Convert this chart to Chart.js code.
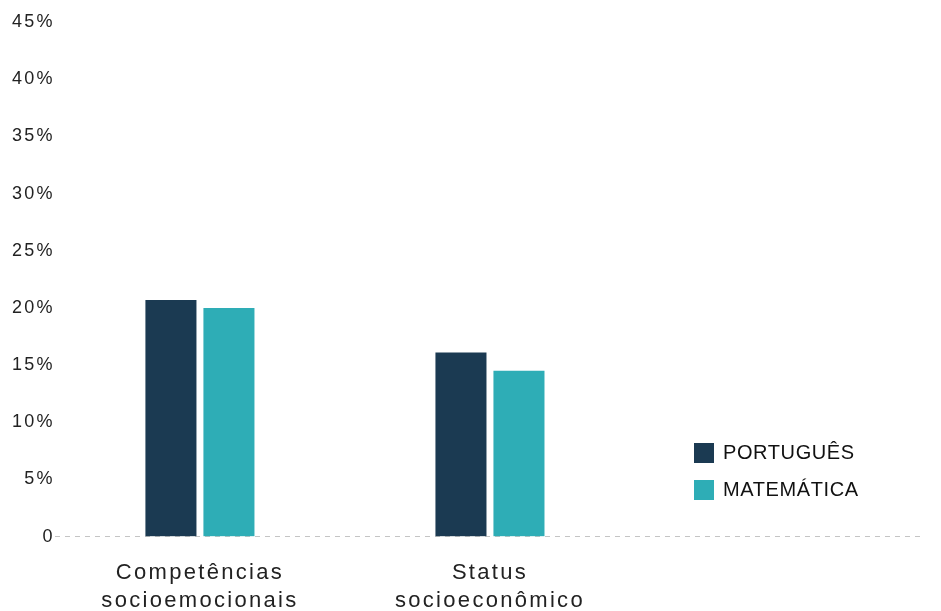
<!DOCTYPE html>
<html lang="pt-BR">
<head>
<meta charset="utf-8">
<title>Competências socioemocionais e status socioeconômico</title>
<script src="https://cdn.jsdelivr.net/npm/chart.js@4.4.1/dist/chart.umd.min.js"></script>
<style>
  html, body { margin: 0; padding: 0; background: #fff; }
  #wrap { position: relative; width: 941px; height: 611px; }
  #legenda {
    position: absolute; left: 694px; top: 434px;
    font-family: "Liberation Sans", Arial, sans-serif;
    font-size: 20px; letter-spacing: 0.6px; color: #111;
  }
  #legenda div { display: flex; align-items: center; height: 37px; }
  #legenda span { display: inline-block; width: 20px; height: 20px; margin-right: 9px; }
</style>
</head>
<body>
<div id="wrap">
  <canvas id="grafico" width="941" height="611"></canvas>
  <div id="legenda"></div>
</div>
<script>
// dados (%)
var categorias = [['Competências', 'socioemocionais'], ['Status', 'socioeconômico'], ''];
var portugues = [20.7, 16.1, null];
var matematica = [20.0, 14.5, null];
var series = ['PORTUGUÊS', 'MATEMÁTICA'];
var cores = ['#1b3a52', '#2eadb6'];
var eixoYMax = 45;
var eixoYPasso = 5;

// espaçamento entre letras, o canvas perde isso a cada resize
var espacamento = {
    id: 'espacamento',
    beforeLayout: function (chart) { chart.ctx.letterSpacing = '2.3px'; },
    beforeDraw: function (chart) { chart.ctx.letterSpacing = '2.3px'; }
};

var ctx = document.getElementById('grafico').getContext('2d');
var grafico = new Chart(ctx, {
    type: 'bar',
    data: {
        labels: categorias,
        datasets: [{
            label: series[0],
            data: portugues,
            backgroundColor: cores[0],
            categoryPercentage: 0.4,
            barPercentage: 0.88
        }, {
            label: series[1],
            data: matematica,
            backgroundColor: cores[1],
            categoryPercentage: 0.4,
            barPercentage: 0.88
        }]
    },
    options: {
        responsive: false,
        animation: false,
        layout: { padding: { top: 22, left: 12, right: 16, bottom: -18 } },
        plugins: {
            legend: { display: false },
            tooltip: { enabled: false }
        },
        scales: {
            x: {
                grid: { display: false },
                border: { display: false },
                ticks: {
                    color: '#222',
                    padding: 14,
                    font: { family: '"Liberation Sans", Arial, sans-serif', size: 22, lineHeight: 1.28 }
                }
            },
            y: {
                min: 0,
                max: eixoYMax,
                // só a linha do zero, tracejada
                grid: {
                    drawTicks: false,
                    color: function (c) { return c.tick && c.tick.value === 0 ? '#c4c4c4' : 'rgba(0,0,0,0)'; }
                },
                border: { display: false, dash: [5, 5] },
                ticks: {
                    stepSize: eixoYPasso,
                    color: '#222',
                    padding: 0,
                    font: { family: '"Liberation Sans", Arial, sans-serif', size: 18 },
                    callback: function (v) { return v === 0 ? '0' : v + '%'; }
                }
            }
        }
    },
    plugins: [espacamento]
});

// legenda em html, ao lado direito
var legenda = document.getElementById('legenda');
grafico.data.datasets.forEach(function (ds) {
    var item = document.createElement('div');
    var quadrado = document.createElement('span');
    quadrado.style.background = ds.backgroundColor;
    item.appendChild(quadrado);
    item.appendChild(document.createTextNode(ds.label));
    legenda.appendChild(item);
});
</script>
</body>
</html>
